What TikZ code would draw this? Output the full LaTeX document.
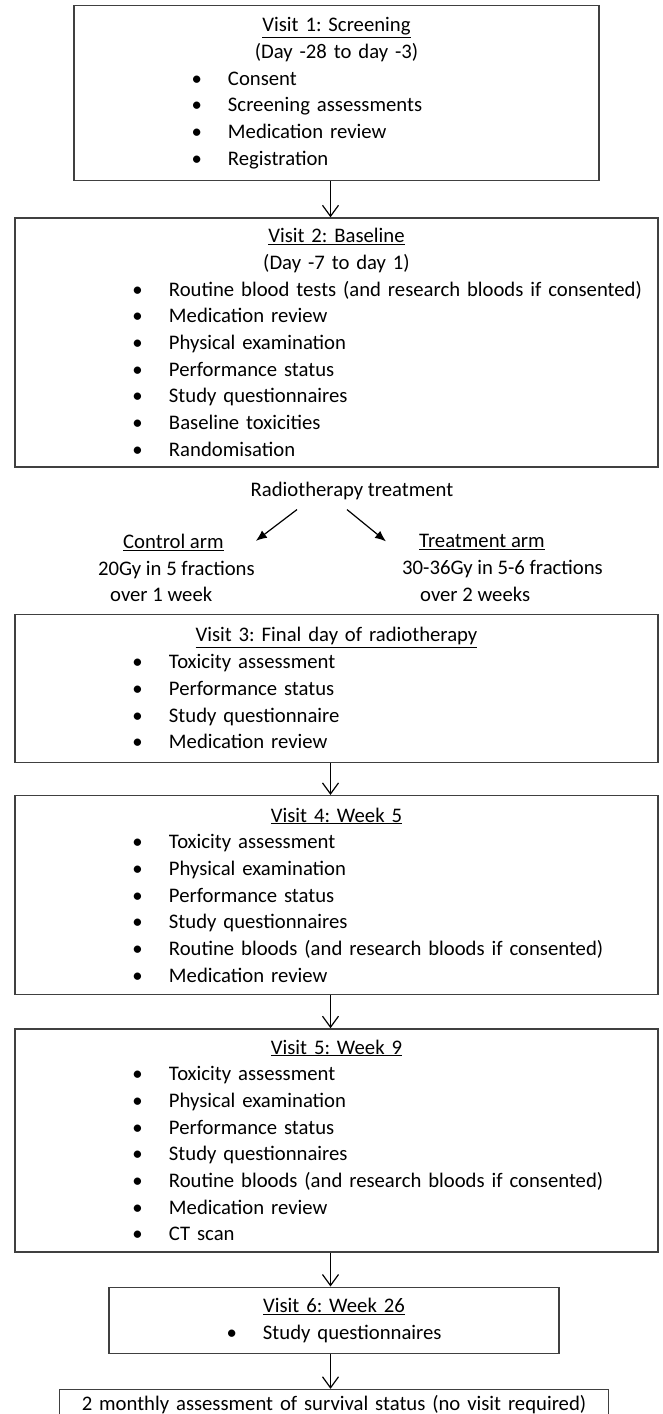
\documentclass[tikz,border=0pt]{standalone}
\usepackage{fontspec}
\setmainfont{Carlito}
\usetikzlibrary{arrows.meta, positioning}

\newcommand{\ttl}[1]{\makebox[\linewidth]{\underline{#1}}}
\newcommand{\subttl}[1]{\makebox[\linewidth]{#1}}
\newcommand{\itm}[1]{\hspace*{117.5pt}\makebox[36.5pt][l]{\textbullet}#1}

\begin{document}
\frenchspacing
\begin{tikzpicture}[
    x=1pt, y=-1pt,
    visit/.style={draw=black!75, line width=1.3pt, inner sep=0pt, align=left, font=\fontsize{20.7pt}{26.7pt}\selectfont},
    note/.style={inner sep=0pt, align=left, font=\fontsize{20.7pt}{26.7pt}\selectfont},
    flow/.style={-{Straight Barb[length=11pt,width=16pt]}, line width=1.2pt},
    split/.style={-{Latex[length=11pt,width=9pt]}, line width=1.2pt}
  ]
    \useasboundingbox (0,0) rectangle (662,1414);

    \node[visit, text width=525pt, minimum height=175pt, anchor=north] (v1) at (336.5,5)
      {\ttl{Visit 1: Screening}\\ \subttl{(Day -28 to day -3)}\\
       \itm{Consent}\\ \itm{Screening assessments}\\ \itm{Medication review}\\ \itm{Registration}};
    \node[visit, text width=643pt, minimum height=249pt, below=36pt of v1] (v2)
      {\ttl{Visit 2: Baseline}\\ \subttl{(Day -7 to day 1)}\\
       \itm{Routine blood tests (and research bloods if consented)}\\ \itm{Medication review}\\
       \itm{Physical examination}\\ \itm{Performance status}\\ \itm{Study questionnaires}\\
       \itm{Baseline toxicities}\\ \itm{Randomisation}};
    \node[visit, text width=643pt, minimum height=148pt, below=146pt of v2] (v3)
      {\ttl{Visit 3: Final day of radiotherapy}\\
       \itm{Toxicity assessment}\\ \itm{Performance status}\\ \itm{Study questionnaire}\\ \itm{Medication review}};
    \node[visit, text width=643pt, minimum height=199pt, below=32pt of v3] (v4)
      {\ttl{Visit 4: Week 5}\\
       \itm{Toxicity assessment}\\ \itm{Physical examination}\\ \itm{Performance status}\\
       \itm{Study questionnaires}\\ \itm{Routine bloods (and research bloods if consented)}\\ \itm{Medication review}};
    \node[visit, text width=643pt, minimum height=223pt, below=33pt of v4] (v5)
      {\ttl{Visit 5: Week 9}\\
       \itm{Toxicity assessment}\\ \itm{Physical examination}\\ \itm{Performance status}\\
       \itm{Study questionnaires}\\ \itm{Routine bloods (and research bloods if consented)}\\
       \itm{Medication review}\\ \itm{CT scan}};
    \node[visit, text width=450pt, minimum height=66pt, below=34pt of v5, xshift=-2.5pt] (v6)
      {\ttl{Visit 6: Week 26}\\ \itm{Study questionnaires}};
    \node[visit, text width=549pt, text height=21pt, text depth=30pt, below=35pt of v6] (v7)
      {\subttl{2 monthly assessment of survival status (no visit required)}};

    \node[note] (rt) at (352,491) {Radiotherapy treatment};
    \node[note, anchor=west] (ctrl) at (98,568)
      {\hspace*{25pt}\underline{Control arm}\\ 20Gy in 5 fractions\\ \hspace*{12pt}over 1 week};
    \node[note, anchor=west] (treat) at (402,568)
      {\hspace*{17pt}\underline{Treatment arm}\\ 30-36Gy in 5-6 fractions\\ \hspace*{18pt}over 2 weeks};

    \draw[split] ([xshift=-55pt,yshift=-9.5pt]rt.south) -- ([xshift=1pt,yshift=-7pt]ctrl.north east);
    \draw[split] ([xshift=-5pt,yshift=-9.5pt]rt.south) -- ([xshift=-16pt,yshift=-7pt]treat.north west);

    \draw[flow] ([xshift=-6pt]v1.south) -- ([xshift=-6pt]v2.north);
    \draw[flow] ([xshift=-6pt]v3.south) -- ([xshift=-6pt]v4.north);
    \draw[flow] ([xshift=-6pt]v4.south) -- ([xshift=-6pt]v5.north);
    \draw[flow] ([xshift=-6pt]v5.south) -- ([xshift=-3.5pt]v6.north);
    \draw[flow] ([xshift=-3.5pt]v6.south) -- ([xshift=-3.5pt]v7.north);
  \end{tikzpicture}
\end{document}
